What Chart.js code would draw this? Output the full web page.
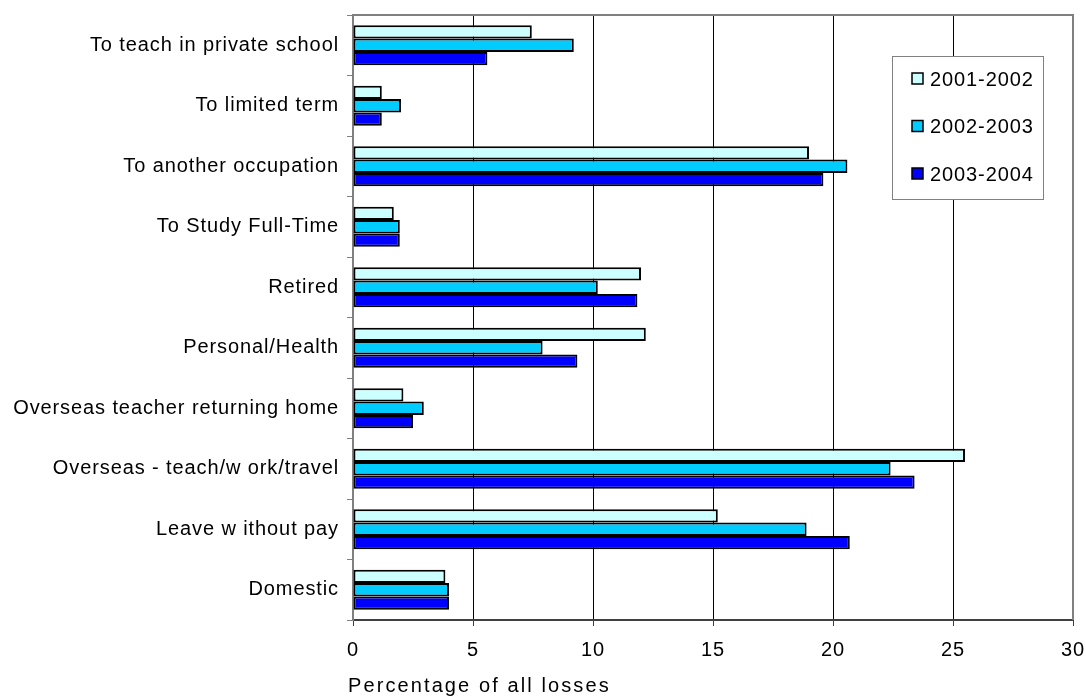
<!DOCTYPE html>
<html>
<head>
<meta charset="utf-8">
<script src="https://cdn.jsdelivr.net/npm/chart.js@4"></script>
<style>
  html, body { margin: 0; padding: 0; background: #fff; }
  #wrap { width: 1086px; height: 697px; }
</style>
</head>
<body>
<div id="wrap"><canvas id="chart"></canvas></div>
<script>
const categories = [
  "To teach in private school",
  "To limited term",
  "To another occupation",
  "To Study Full-Time",
  "Retired",
  "Personal/Health",
  "Overseas teacher returning home",
  "Overseas - teach/w ork/travel",
  "Leave w ithout pay",
  "Domestic",
];
const years = ["2001-2002", "2002-2003", "2003-2004"];
const values2001 = [7.45, 1.2, 19.0, 1.7, 12.0, 12.2, 2.1, 25.5, 15.2, 3.85];
const values2002 = [9.2, 2.0, 20.6, 1.95, 10.2, 7.9, 2.95, 22.4, 18.9, 4.0];
const values2003 = [5.6, 1.2, 19.6, 1.95, 11.85, 9.35, 2.5, 23.4, 20.7, 4.0];
const colors = ["#ccffff", "#00ccff", "#0000ff"];
const axisTitle = "Percentage of all losses";

const FONT = "'Liberation Sans', Arial, sans-serif";
const SPACING = "0.9px";

// the original text is spaced out a little, like Excel output
const spacingPlugin = {
  id: "spacing",
  beforeLayout(chart) { chart.ctx.letterSpacing = SPACING; },
  beforeDraw(chart) { chart.ctx.letterSpacing = SPACING; },
};

// gray frame on top and right of the plot, axis title, boxed legend
const framePlugin = {
  id: "frame",
  afterDraw(chart) {
    const { ctx, chartArea: a } = chart;
    ctx.save();
    ctx.strokeStyle = "#808080";
    ctx.lineWidth = 2;
    ctx.beginPath();
    ctx.moveTo(a.left - 1, a.top);
    ctx.lineTo(a.right, a.top);
    ctx.lineTo(a.right, a.bottom);
    ctx.stroke();

    ctx.fillStyle = "#000";
    ctx.font = "20px " + FONT;
    ctx.letterSpacing = "2.1px";
    ctx.textBaseline = "alphabetic";
    ctx.textAlign = "left";
    ctx.fillText(axisTitle, 348, 692);

    // legend
    const bx = 892, by = 56, bw = 151, bh = 143;
    ctx.fillStyle = "#fff";
    ctx.fillRect(bx, by, bw, bh);
    ctx.lineWidth = 1;
    ctx.strokeStyle = "#808080";
    ctx.strokeRect(bx + 0.5, by + 0.5, bw, bh);
    ctx.letterSpacing = SPACING;
    ctx.textBaseline = "middle";
    chart.data.datasets.forEach((ds, i) => {
      const y = 79 + i * 47.5;
      ctx.fillStyle = ds.backgroundColor;
      ctx.fillRect(912, y - 6, 11, 11);
      ctx.strokeStyle = "#000";
      ctx.lineWidth = 1.5;
      ctx.strokeRect(912, y - 6, 11, 11);
      ctx.fillStyle = "#000";
      ctx.fillText(ds.label, 930, y + 1);
    });
    ctx.restore();
  },
};

const ctx = document.getElementById("chart").getContext("2d");
const seriesValues = [values2001, values2002, values2003];

const chart = new Chart(ctx, {
  type: "bar",
  data: {
    labels: categories,
    datasets: years.map((y, i) => ({
      label: y,
      data: seriesValues[i],
      backgroundColor: colors[i],
      borderColor: "#000",
      borderWidth: 2,
      borderSkipped: false,
      categoryPercentage: 0.66,
      barPercentage: 1.0,
    })),
  },
  options: {
    indexAxis: "y",
    responsive: true,
    maintainAspectRatio: false,
    animation: false,
    layout: { padding: { top: 15, right: 13, left: 0, bottom: 0 } },
    plugins: {
      legend: { display: false },
      tooltip: { enabled: false },
    },
    scales: {
      x: {
        min: 0,
        max: 30,
        ticks: {
          stepSize: 5,
          color: "#000",
          padding: 12,
          font: { family: FONT, size: 20 },
        },
        grid: {
          color: (c) => (c.index === 0 || c.index === 6 ? "rgba(0,0,0,0)" : "#000"),
          tickColor: "#404040",
          lineWidth: 1,
          tickLength: 6,
        },
        border: { color: "#404040", width: 2 },
        afterFit(scale) {
          scale.height = 77;
          scale.paddingLeft = 0;
          scale.paddingRight = 0;
        },
      },
      y: {
        ticks: {
          color: "#000",
          padding: 8,
          font: { family: FONT, size: 20 },
        },
        grid: {
          drawOnChartArea: false,
          offset: true,
          color: "#808080",
          tickLength: 6,
        },
        border: { color: "#808080", width: 2 },
        afterFit(scale) {
          scale.width = 353;
          scale.paddingTop = 0;
          scale.paddingBottom = 0;
        },
      },
    },
  },
  plugins: [spacingPlugin, framePlugin],
});
</script>
</body>
</html>
